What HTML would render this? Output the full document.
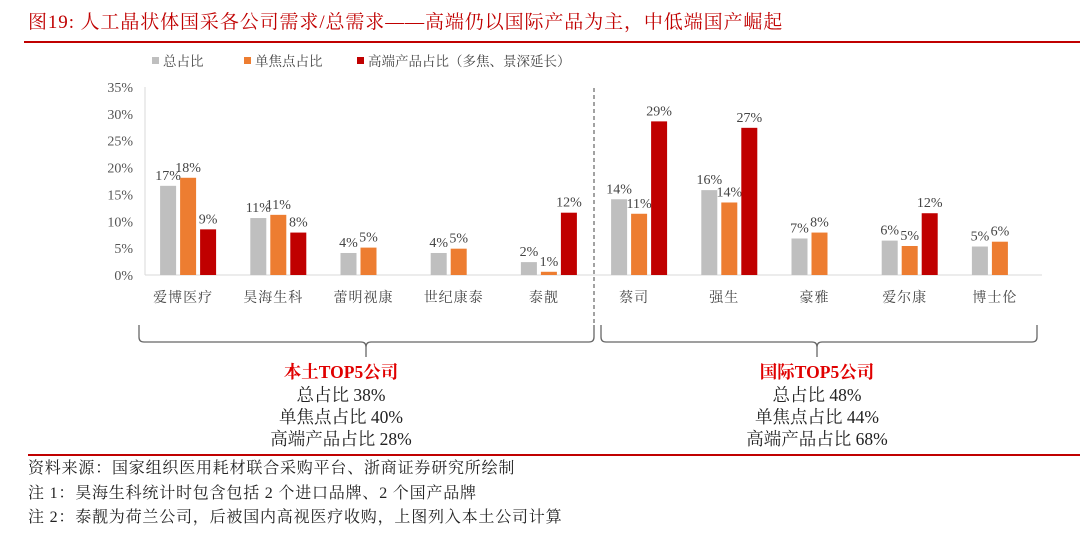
<!DOCTYPE html>
<html><head><meta charset="utf-8"><style>
body{margin:0;width:1080px;height:534px;background:#fff;overflow:hidden;font-family:"Liberation Serif","Noto Serif CJK SC",serif;}
</style></head><body>
<svg id="c" width="1080" height="534" xmlns="http://www.w3.org/2000/svg">
<text x="28" y="28" font-size="19" letter-spacing="0.9" fill="#c00000">图19:  人工晶状体国采各公司需求/总需求——高端仍以国际产品为主，中低端国产崛起</text>
<line x1="24" y1="42" x2="1080" y2="42" stroke="#c00000" stroke-width="2"/>
<g font-size="13.5" fill="#444">
<rect x="152" y="57" width="7" height="7" fill="#bfbfbf"/><text x="163" y="66">总占比</text>
<rect x="244" y="57" width="7" height="7" fill="#ed7d31"/><text x="255" y="66">单焦点占比</text>
<rect x="357" y="57" width="7" height="7" fill="#c00000"/><text x="368" y="66">高端产品占比（多焦、景深延长）</text>
</g>
<g id="plot"></g>
<line x1="594" y1="88" x2="594" y2="340" stroke="#444" stroke-dasharray="4,3"/>
<path d="M139,325 v12 q0,5 5,5 h217 q5,0 5,5 v10 M366,347 q0,-5 5,-5 h218 q5,0 5,-5 v-12" fill="none" stroke="#666" stroke-width="1.3"/>
<path d="M601,325 v12 q0,5 5,5 h206 q5,0 5,5 v10 M817,347 q0,-5 5,-5 h210 q5,0 5,-5 v-12" fill="none" stroke="#666" stroke-width="1.3"/>
<g font-size="17.5" text-anchor="middle" fill="#222">
<text x="341" y="378" fill="#e00000" font-weight="bold">本土TOP5公司</text>
<text x="341" y="401">总占比 38%</text>
<text x="341" y="423">单焦点占比 40%</text>
<text x="341" y="445">高端产品占比 28%</text>
<text x="817" y="378" fill="#e00000" font-weight="bold">国际TOP5公司</text>
<text x="817" y="401">总占比 48%</text>
<text x="817" y="423">单焦点占比 44%</text>
<text x="817" y="445">高端产品占比 68%</text>
</g>
<line x1="28" y1="455" x2="1080" y2="455" stroke="#c00000" stroke-width="2"/>
<g font-size="16" letter-spacing="0.8" fill="#222">
<text x="28" y="473">资料来源：国家组织医用耗材联合采购平台、浙商证券研究所绘制</text>
<text x="28" y="498">注 1：昊海生科统计时包含包括 2 个进口品牌、2 个国产品牌</text>
<text x="28" y="522">注 2：泰靓为荷兰公司，后被国内高视医疗收购，上图列入本土公司计算</text>
</g>
</svg>
<script>
const categories=["爱博医疗","昊海生科","蕾明视康","世纪康泰","泰靓","蔡司","强生","豪雅","爱尔康","博士伦"];
const totalShare=[16.6,10.6,4.1,4.1,2.4,14.1,15.8,6.8,6.4,5.3];
const monoShare=[18.1,11.2,5.1,4.9,0.6,11.4,13.5,7.9,5.4,6.2];
const premiumShare=[8.5,7.9,null,null,11.6,28.6,27.4,null,11.5,null];
const totalLabels=["17%","11%","4%","4%","2%","14%","16%","7%","6%","5%"];
const monoLabels=["18%","11%","5%","5%","1%","11%","14%","8%","5%","6%"];
const premiumLabels=["9%","8%","","","12%","29%","27%","","12%",""];
const yTicks=[0,5,10,15,20,25,30,35];
const NS="http://www.w3.org/2000/svg";
const g=document.getElementById('plot');
const y0=275,y1=87,x0=138,bandW=90.2;
const yS=v=>y0-(v/35)*(y0-y1);
const xS=i=>x0+i*bandW;
function mk(t,a){const e=document.createElementNS(NS,t);for(const k in a)e.setAttribute(k,a[k]);g.appendChild(e);return e;}
let ax=mk('line',{x1:145,y1:y1,x2:145,y2:y0,stroke:'#d9d9d9'});


let bx=mk('line',{x1:145,y1:y0,x2:1042,y2:y0,stroke:'#d9d9d9'});


yTicks.forEach(v=>{const t=mk('text',{x:133,y:yS(v)+5,'font-size':14,'text-anchor':'end',fill:'#555'});t.textContent=v+'%';

});
const series=[[totalShare,totalLabels,'#bfbfbf','total'],[monoShare,monoLabels,'#ed7d31','mono'],[premiumShare,premiumLabels,'#c00000','premium']];
categories.forEach((c,i)=>{
 const cx=xS(i)+bandW/2;
 const t=mk('text',{x:cx,y:302,'font-size':14,'letter-spacing':1,'text-anchor':'middle',fill:'#444'});t.textContent=c;
 
 
 series.forEach((s,j)=>{
  const v=s[0][i];if(v==null)return;
  const bxp=cx-23+j*20;
  const r=mk('rect',{x:bxp,y:yS(v),width:16,height:y0-yS(v),fill:s[2]});
  
  
  const l=mk('text',{x:bxp+8,y:yS(v)-6,'font-size':14,'text-anchor':'middle',fill:'#444'});l.textContent=s[1][i];
  
  
 });
});
</script>
</body></html>
